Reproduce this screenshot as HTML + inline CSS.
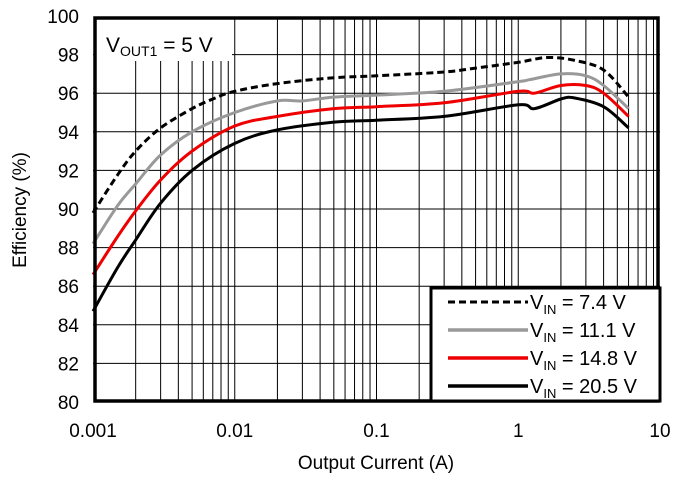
<!DOCTYPE html>
<html><head><meta charset="utf-8"><style>
body{margin:0;background:#fff;width:682px;height:473px;overflow:hidden}
svg{font-family:"Liberation Sans",Arial,sans-serif}
</style></head><body>
<svg id="s" width="682" height="473" xmlns="http://www.w3.org/2000/svg">
<g id="grid" stroke="#000" stroke-width="1"></g>
<rect x="94" y="17" width="138" height="44" fill="#fff"/>
<g id="curves" fill="none" stroke-linejoin="round"></g>
<rect x="95" y="18" width="563" height="383" fill="none" stroke="#000" stroke-width="3.5"/>
<text x="106" y="52" font-size="21">V<tspan font-size="14" dy="4">OUT1</tspan><tspan dy="-4"> = 5 V</tspan></text>
<rect x="431" y="288" width="229" height="113" fill="#fff" stroke="#000" stroke-width="3"/>
<line x1="448" y1="302" x2="528" y2="302" stroke="#000" stroke-width="3" stroke-dasharray="7,4"/>
<line x1="448" y1="330" x2="528" y2="330" stroke="#999" stroke-width="3.5"/>
<line x1="448" y1="358" x2="528" y2="358" stroke="#e00" stroke-width="3.5"/>
<line x1="448" y1="386" x2="528" y2="386" stroke="#000" stroke-width="3.5"/>
<g font-size="20">
<text x="530" y="309">V<tspan font-size="13" dy="5">IN</tspan><tspan dy="-5"> = 7.4 V</tspan></text>
<text x="530" y="337">V<tspan font-size="13" dy="5">IN</tspan><tspan dy="-5"> = 11.1 V</tspan></text>
<text x="530" y="365">V<tspan font-size="13" dy="5">IN</tspan><tspan dy="-5"> = 14.8 V</tspan></text>
<text x="530" y="393">V<tspan font-size="13" dy="5">IN</tspan><tspan dy="-5"> = 20.5 V</tspan></text>
</g>
<g id="lab" font-size="19"></g>
<text x="376" y="469" font-size="19" text-anchor="middle">Output Current (A)</text>
<text transform="translate(26,210) rotate(-90)" font-size="19" text-anchor="middle">Efficiency (%)</text>
</svg>
<script>
var X=function(i){return 93+141.75*(Math.log10(i)+3)},Y=function(e){return 402-(e-80)*19.3};
var g=document.getElementById('grid'),h='';
for(var e=82;e<100;e+=2)h+='<line x1="93" x2="660" y1="'+Y(e)+'" y2="'+Y(e)+'"/>';
for(var d=-3;d<1;d++)for(var m=1;m<10;m++){var x=X(m*Math.pow(10,d));if(m==1&&d==-3)continue;h+='<line x1="'+x+'" x2="'+x+'" y1="17" y2="402"/>';}
g.innerHTML=h;
var L='';for(var e=80;e<=100;e+=2)L+='<text x="79" y="'+(Y(e)+7)+'" text-anchor="end">'+e+'</text>';
['0.001','0.01','0.1','1','10'].forEach(function(t,i){L+='<text x="'+(93+141.75*i)+'" y="437" text-anchor="middle">'+t+'</text>'});
document.getElementById('lab').innerHTML=L;
var S=[
['#000','7,4',[[.001,89.8],[.0015,91.8],[.002,93],[.003,94.2],[.005,95.2],[.007,95.7],[.01,96.1],[.02,96.5],[.05,96.8],[.1,96.9],[.3,97.1],[.5,97.3],[1,97.6],[1.6,97.85],[2.5,97.7],[4,97.2],[6,95.8]]],
['#999','',[[.001,88.2],[.0015,90.2],[.002,91.3],[.003,92.8],[.005,94],[.01,95],[.02,95.6],[.03,95.6],[.05,95.8],[.1,95.9],[.3,96.1],[1,96.6],[1.2,96.7],[2,97],[3,96.9],[4,96.4],[6,95.2]]],
['#e00','',[[.001,86.6],[.0015,88.6],[.002,89.9],[.003,91.5],[.005,93],[.01,94.3],[.02,94.8],[.05,95.2],[.1,95.3],[.3,95.5],[1,96.1],[1.3,96],[2,96.4],[3,96.4],[4,96],[6,94.8]]],
['#000','',[[.001,84.7],[.0015,87],[.002,88.4],[.003,90.3],[.005,92],[.01,93.4],[.02,94.1],[.05,94.5],[.1,94.6],[.3,94.8],[1,95.4],[1.3,95.2],[2,95.7],[2.5,95.75],[4,95.3],[6,94.2]]]];
function path(pts){var p=pts.map(function(q){return [X(q[0]),Y(q[1])]});var d='M'+p[0][0].toFixed(1)+','+p[0][1].toFixed(1);
for(var i=0;i<p.length-1;i++){var a=p[Math.max(i-1,0)],b=p[i],c=p[i+1],e=p[Math.min(i+2,p.length-1)];
d+=' C'+(b[0]+(c[0]-a[0])/6).toFixed(1)+','+(b[1]+(c[1]-a[1])/6).toFixed(1)+' '+(c[0]-(e[0]-b[0])/6).toFixed(1)+','+(c[1]-(e[1]-b[1])/6).toFixed(1)+' '+c[0].toFixed(1)+','+c[1].toFixed(1);}return d;}
var c='';S.forEach(function(s){c+='<path stroke="'+s[0]+'" stroke-width="3" '+(s[1]?'stroke-dasharray="'+s[1]+'"':'')+' d="'+path(s[2])+'"/>'});
document.getElementById('curves').innerHTML=c;
</script>
</body></html>
